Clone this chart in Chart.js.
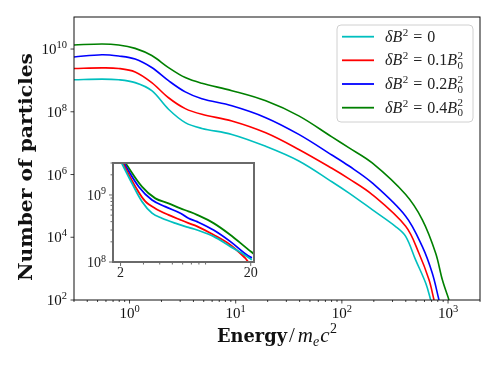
<!DOCTYPE html>
<html><head><meta charset="utf-8">
<script src="https://cdn.jsdelivr.net/npm/chart.js@4.4.0/dist/chart.umd.min.js"></script>
<style>
html,body{margin:0;padding:0;background:#fff;}
#wrap{position:relative;width:498px;height:366px;overflow:hidden;}
#main{position:absolute;left:0;top:0;width:498px;height:366px;}
#inset{position:absolute;left:80px;top:150px;width:185px;height:132px;}
</style></head><body>
<div id="wrap">
<canvas id="main" width="498" height="366"></canvas>
<canvas id="inset" width="185" height="132"></canvas>
</div>
<script>
// ---------- main panel data ----------
const seriesLabels = ['δB² = 0', 'δB² = 0.1B₀²', 'δB² = 0.2B₀²', 'δB² = 0.4B₀²'];
const seriesColors = ['#00bfbf', '#ff0000', '#0000ff', '#008000'];

const energyCommon = [0.3, 0.55, 0.79, 1.13, 1.62, 2.33, 3.35, 4.8, 9.2, 19.2, 39.3, 80.5, 116, 193];

const cyanE = energyCommon.concat([321, 399, 495, 617, 687]);
const cyanN = [1.05e9, 1.10e9, 1.05e9, 8.5e8, 4.7e8, 1.2e8, 4.5e7, 2.95e7, 1.9e7, 7.9e6, 2.7e6, 5.9e5, 2.6e5, 7.6e4,
               2.2e4, 1.07e4, 1.9e3, 340, 100];

const redE = energyCommon.concat([399, 532, 662, 738]);
const redN = [2.4e9, 2.5e9, 2.4e9, 1.86e9, 8.5e8, 2.8e8, 1.26e8, 8.3e7, 5.1e7, 2.14e7, 6.3e6, 1.58e6, 7.4e5, 2.3e5,
              2.24e4, 3.1e3, 440, 100];

const blueE = energyCommon.concat([399, 573, 711, 822]);
const blueN = [5.6e9, 6.6e9, 6.0e9, 4.8e9, 2.57e9, 9.8e8, 4.3e8, 2.6e8, 1.55e8, 6.5e7, 1.9e7, 4.2e6, 1.9e6, 5.4e5,
               4.7e4, 5.0e3, 710, 100];

const greenE = energyCommon.concat([399, 573, 765, 884, 1021]);
const greenN = [1.35e10, 1.45e10, 1.35e10, 1.05e10, 6.2e9, 2.57e9, 1.23e9, 8.1e8, 4.7e8, 2.24e8, 7.4e7, 1.58e7, 7.2e6, 2.34e6,
                2.3e5, 3.6e4, 3.1e3, 440, 100];

const xMajorTicks = [1, 10, 100, 1000];
const xMajorLabels = ['0', '1', '2', '3'];
const xMinorTicks = [0.3,0.4,0.5,0.6,0.7,0.8,0.9, 2,3,4,5,6,7,8,9, 20,30,40,50,60,70,80,90, 200,300,400,500,600,700,800,900, 2000];
const yMajorTicks = [1e2, 1e4, 1e6, 1e8, 1e10];
const yMajorLabels = ['2', '4', '6', '8', '10'];

// ---------- inset data ----------
const cyanInsetE = [2.04, 2.45, 2.92, 3.49, 4.16, 5.25, 6.65, 7.75, 10.36, 13.9, 18.6, 20.4];
const cyanInsetN = [3.0e9, 1.49e9, 8.0e8, 5.35e8, 4.5e8, 3.8e8, 3.28e8, 3.0e8, 2.41e8, 1.71e8, 1.22e8, 1.08e8];
const redInsetE = [2.08, 2.60, 3.10, 3.70, 4.67, 5.77, 6.65, 7.75, 10.36, 13.9, 18.1, 19.1];
const redInsetN = [3.0e9, 1.33e9, 8.0e8, 6.3e8, 5.05e8, 4.25e8, 3.8e8, 3.4e8, 2.55e8, 1.81e8, 1.15e8, 1.0e8];
const blueInsetE = [2.12, 2.76, 3.49, 4.41, 5.77, 6.65, 7.75, 10.36, 13.9, 18.6, 20.4];
const blueInsetN = [3.0e9, 1.33e9, 8.4e8, 6.7e8, 5.35e8, 4.5e8, 4.0e8, 3.0e8, 2.03e8, 1.28e8, 1.15e8];
const greenInsetE = [2.18, 2.92, 3.70, 4.67, 5.77, 6.65, 7.75, 10.36, 13.9, 18.6, 21.2];
const greenInsetN = [3.0e9, 1.33e9, 8.9e8, 7.5e8, 6.3e8, 5.7e8, 5.05e8, 3.8e8, 2.55e8, 1.61e8, 1.32e8];

const insetXMajor = [2, 20];
const insetXLabels = ['2', '20'];
const insetXMinor = [3,4,5,6,7,8,9];
const insetYMajor = [1e8, 1e9];
const insetYLabels = ['8', '9'];
const insetYMinor = [2e8,3e8,4e8,5e8,6e8,7e8,8e8,9e8,2e9,3e9];

// ---------- helpers ----------
const SERIF = "'Liberation Serif', 'DejaVu Serif', serif";
const BOLD = "'DejaVu Serif', serif";
const pts = (xs, ys) => xs.map((v, i) => ({x: v, y: ys[i]}));

function makeSets(list, bw) {
  return list.map((s, i) => ({
    label: seriesLabels[i], data: pts(s[0], s[1]), showLine: true,
    borderColor: seriesColors[i], backgroundColor: seriesColors[i], borderWidth: bw,
    pointRadius: 0, fill: false, tension: 0.35
  }));
}

function drawSci(ctx, exp, px, baseline, align, size, expSize, rise) {
  ctx.font = size + 'px ' + SERIF;
  const wb = ctx.measureText('10').width;
  ctx.font = expSize + 'px ' + SERIF;
  const we = ctx.measureText(exp).width;
  const total = wb + we;
  const start = align === 'center' ? px - total / 2 : px - total;
  ctx.textAlign = 'left'; ctx.textBaseline = 'alphabetic';
  ctx.font = size + 'px ' + SERIF;
  ctx.fillText('10', start, baseline);
  ctx.font = expSize + 'px ' + SERIF;
  ctx.fillText(exp, start + wb, baseline - rise);
}

function put(ctx, s, x, y, font) {
  ctx.font = font; ctx.fillText(s, x, y); return ctx.measureText(s).width;
}

// ---------- main decorations ----------
const mainDecor = {
  id: 'mainDecor',
  afterDraw(chart) {
    const {ctx, chartArea: a, scales: {x, y}} = chart;
    ctx.save();
    ctx.fillStyle = '#111'; ctx.strokeStyle = '#111';
    ctx.lineWidth = 1;
    ctx.strokeRect(a.left, a.top, a.right - a.left, a.bottom - a.top);
    // ticks
    ctx.beginPath();
    xMajorTicks.forEach(v => { const p = x.getPixelForValue(v); ctx.moveTo(p, a.bottom); ctx.lineTo(p, a.bottom + 3.5); });
    xMinorTicks.forEach(v => { const p = x.getPixelForValue(v); ctx.moveTo(p, a.bottom); ctx.lineTo(p, a.bottom + 2); });
    yMajorTicks.forEach(v => { const p = y.getPixelForValue(v); ctx.moveTo(a.left, p); ctx.lineTo(a.left - 3.5, p); });
    ctx.lineWidth = 0.8; ctx.stroke();
    xMajorTicks.forEach((v, i) => drawSci(ctx, xMajorLabels[i], x.getPixelForValue(v), a.bottom + 18, 'center', 15, 10.5, 6));
    yMajorTicks.forEach((v, i) => drawSci(ctx, yMajorLabels[i], a.left - 7, y.getPixelForValue(v) + 5, 'right', 15, 10.5, 6));
    // y title
    ctx.save();
    ctx.translate(27, 167); ctx.rotate(-Math.PI / 2);
    ctx.textAlign = 'center'; ctx.textBaseline = 'middle';
    ctx.font = 'bold 18px ' + BOLD;
    const yw = ctx.measureText('Number of particles').width;
    ctx.scale(228 / yw, 1);
    ctx.fillText('Number of particles', 0, 0);
    ctx.restore();
    // x title: Energy/m_e c^2
    ctx.textAlign = 'left'; ctx.textBaseline = 'alphabetic';
    const bl = 342;
    ctx.font = 'bold 18px ' + BOLD;
    const ew = ctx.measureText('Energy').width;
    ctx.save(); ctx.translate(217, bl); ctx.scale(70 / ew, 1); ctx.fillText('Energy', 0, 0); ctx.restore();
    let cx = 289;
    cx += put(ctx, '/', cx, bl, '21px ' + SERIF) + 3;
    cx += put(ctx, 'm', cx, bl, 'italic 21px ' + SERIF);
    cx += put(ctx, 'e', cx, bl + 4, 'italic 14px ' + SERIF) + 1;
    cx += put(ctx, 'c', cx, bl, 'italic 21px ' + SERIF);
    put(ctx, '2', cx + 0.5, bl - 9, '14px ' + SERIF);
    // legend
    const lx = 337, ly = 25, lw = 136, lh = 97, r = 4;
    ctx.beginPath();
    ctx.moveTo(lx + r, ly); ctx.lineTo(lx + lw - r, ly); ctx.quadraticCurveTo(lx + lw, ly, lx + lw, ly + r);
    ctx.lineTo(lx + lw, ly + lh - r); ctx.quadraticCurveTo(lx + lw, ly + lh, lx + lw - r, ly + lh);
    ctx.lineTo(lx + r, ly + lh); ctx.quadraticCurveTo(lx, ly + lh, lx, ly + lh - r);
    ctx.lineTo(lx, ly + r); ctx.quadraticCurveTo(lx, ly, lx + r, ly); ctx.closePath();
    ctx.fillStyle = 'rgba(255,255,255,0.85)'; ctx.fill();
    ctx.strokeStyle = '#d0d0d0'; ctx.lineWidth = 1; ctx.stroke();
    const rows = [36.7, 60.3, 84, 107.7];
    const coef = ['0', '0.1', '0.2', '0.4'];
    rows.forEach((yc, i) => {
      ctx.strokeStyle = seriesColors[i]; ctx.lineWidth = 1.8;
      ctx.beginPath(); ctx.moveTo(342, yc); ctx.lineTo(374, yc); ctx.stroke();
      ctx.fillStyle = '#222';
      const b = yc + 5;
      let tx = 385;
      tx += put(ctx, 'δB', tx, b, 'italic 16px ' + SERIF);
      tx += put(ctx, '2', tx + 0.5, b - 6, '11px ' + SERIF) + 0.5;
      tx += 5;
      tx += put(ctx, '=', tx, b, '16px ' + SERIF);
      tx += 5;
      tx += put(ctx, coef[i], tx, b, '16px ' + SERIF);
      if (i > 0) {
        tx += put(ctx, 'B', tx, b, 'italic 16px ' + SERIF);
        put(ctx, '2', tx + 0.5, b - 6.5, '11px ' + SERIF);
        put(ctx, '0', tx + 0.5, b + 3.5, '11px ' + SERIF);
      }
    });
    ctx.restore();
  }
};

new Chart(document.getElementById('main'), {
  type: 'scatter',
  data: {datasets: makeSets([[cyanE, cyanN], [redE, redN], [blueE, blueN], [greenE, greenN]], 1.6)},
  options: {
    responsive: false, animation: false, devicePixelRatio: 1,
    layout: {padding: {left: 0, right: 18, top: 17, bottom: 0}},
    plugins: {legend: {display: false}, tooltip: {enabled: false}},
    scales: {
      x: {type: 'logarithmic', min: 0.3, max: 2000, ticks: {display: false}, grid: {display: false}, border: {display: false},
          afterFit(s) { s.height = 66; }},
      y: {type: 'logarithmic', min: 1e2, max: 1.05e11, ticks: {display: false}, grid: {display: false}, border: {display: false},
          afterFit(s) { s.width = 74; }}
    }
  },
  plugins: [mainDecor]
});

// ---------- inset ----------
const insetDecor = {
  id: 'insetDecor',
  beforeDatasetsDraw(chart) {
    const {ctx, chartArea: a} = chart;
    ctx.save(); ctx.fillStyle = '#fff'; ctx.fillRect(a.left, a.top, a.right - a.left, a.bottom - a.top); ctx.restore();
  },
  afterDraw(chart) {
    const {ctx, chartArea: a, scales: {x, y}} = chart;
    ctx.save();
    ctx.strokeStyle = '#6a6a6a'; ctx.lineWidth = 2;
    ctx.strokeRect(a.left, a.top, a.right - a.left, a.bottom - a.top);
    ctx.beginPath();
    insetXMajor.forEach(v => { const p = x.getPixelForValue(v); ctx.moveTo(p, a.bottom); ctx.lineTo(p, a.bottom + 4); });
    insetXMinor.forEach(v => { const p = x.getPixelForValue(v); ctx.moveTo(p, a.bottom); ctx.lineTo(p, a.bottom + 2.5); });
    insetYMajor.forEach(v => { const p = y.getPixelForValue(v); ctx.moveTo(a.left, p); ctx.lineTo(a.left - 4, p); });
    insetYMinor.forEach(v => { const p = y.getPixelForValue(v); ctx.moveTo(a.left, p); ctx.lineTo(a.left - 2.5, p); });
    ctx.lineWidth = 1; ctx.stroke();
    ctx.fillStyle = '#222';
    ctx.textAlign = 'center'; ctx.textBaseline = 'alphabetic';
    ctx.font = '14px ' + SERIF;
    insetXMajor.forEach((v, i) => ctx.fillText(insetXLabels[i], x.getPixelForValue(v), a.bottom + 15));
    insetYMajor.forEach((v, i) => drawSci(ctx, insetYLabels[i], a.left - 7, y.getPixelForValue(v) + 5, 'right', 14, 10, 5.5));
    ctx.restore();
  }
};

new Chart(document.getElementById('inset'), {
  type: 'scatter',
  data: {datasets: makeSets([[cyanInsetE, cyanInsetN], [redInsetE, redInsetN], [blueInsetE, blueInsetN], [greenInsetE, greenInsetN]], 1.8)},
  options: {
    responsive: false, animation: false, devicePixelRatio: 1,
    layout: {padding: {left: 0, right: 11, top: 13, bottom: 0}},
    plugins: {legend: {display: false}, tooltip: {enabled: false}},
    scales: {
      x: {type: 'logarithmic', min: 1.75, max: 21.2, ticks: {display: false}, grid: {display: false}, border: {display: false},
          afterFit(s) { s.height = 20; }},
      y: {type: 'logarithmic', min: 1e8, max: 3e9, ticks: {display: false}, grid: {display: false}, border: {display: false},
          afterFit(s) { s.width = 33; }}
    }
  },
  plugins: [insetDecor]
});
</script>
</body></html>
